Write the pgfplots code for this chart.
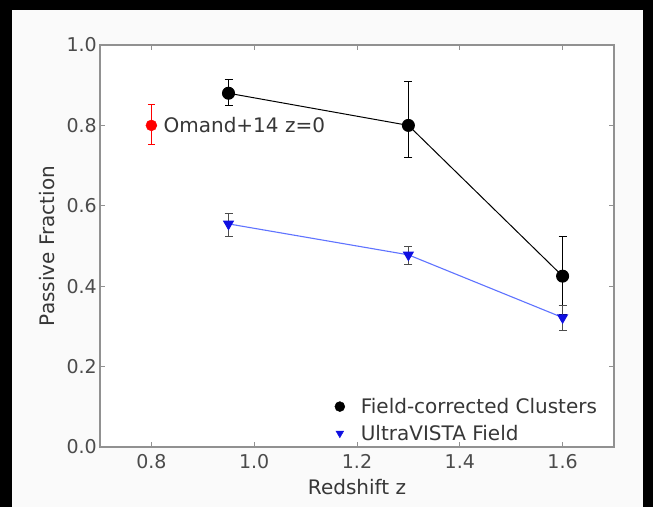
\documentclass[border=0pt]{standalone}
\usepackage{fontspec}
\setmainfont{DejaVu Sans}
\usepackage{pgfplots}
\pgfplotsset{compat=1.18}
\usepackage{pgfplotstable}

\definecolor{spine}{RGB}{145,145,145}
\definecolor{ticktext}{RGB}{75,75,75}
\definecolor{labeltext}{RGB}{55,55,55}
\definecolor{fieldblue}{RGB}{15,15,225}
\definecolor{fieldline}{RGB}{95,115,255}
\definecolor{paper}{RGB}{250,250,250}

% passive fraction vs redshift: z, value, +err, -err
\pgfplotstableread{
z f ep em
0.95 0.880 0.035 0.030
1.30 0.800 0.110 0.080
1.60 0.425 0.100 0.095
}\clusters
\pgfplotstableread{
z f ep em
0.95 0.555 0.025 0.030
1.30 0.478 0.022 0.025
1.60 0.322 0.030 0.032
}\field
\pgfplotstableread{
z f ep em
0.80 0.800 0.053 0.047
}\omand

\begin{document}
\begin{tikzpicture}
\path[fill=paper, draw=none] (0bp,0bp) rectangle (653bp,507bp);
\path[fill=white, draw=none] (100bp,60bp) rectangle (614bp,462bp);
\fill[black] (0bp,497bp) rectangle (653bp,507bp);
\fill[black] (0bp,0bp) rectangle (12bp,507bp);
\fill[black] (643bp,0bp) rectangle (653bp,507bp);
\begin{axis}[
  at={(100bp,60bp)}, anchor=south west,
  scale only axis, width=514bp, height=402bp,
  xmin=0.7, xmax=1.7, ymin=0, ymax=1,
  xtick={0.8,1.0,1.2,1.4,1.6},
  ytick={0,0.2,0.4,0.6,0.8,1.0},
  axis line style={spine, line width=1.4bp},
  tick align=inside, major tick length=5bp,
  tick style={spine, line width=0.8bp},
  /pgf/number format/assume math mode=true,
  /pgf/number format/.cd, fixed, fixed zerofill, precision=1, /pgfplots/.cd,
  tick label style={font=\fontsize{19bp}{22bp}\selectfont, text=ticktext},
  xticklabel style={inner sep=2bp, yshift=-5bp},
  yticklabel style={inner sep=2bp, xshift=-1bp},
  xlabel={Redshift z}, ylabel={Passive Fraction},
  every axis x label/.style={at={(axis description cs:0.5,-0.0995)}, anchor=center,
    font=\fontsize{20bp}{24bp}\selectfont, text=labeltext},
  every axis y label/.style={at={(axis description cs:-0.103,0.5)}, anchor=center, rotate=90,
    font=\fontsize{20bp}{24bp}\selectfont, text=labeltext},
  legend style={draw=none, fill=none, at={(axis description cs:0.977,0.003)}, anchor=south east,
    font=\fontsize{20bp}{24bp}\selectfont, text=labeltext, row sep=6bp, column sep=14bp,
    legend cell align=left},
]
\addlegendimage{only marks, mark=*, mark size=5bp, black}
\addlegendentry{Field-corrected Clusters}
\addlegendimage{only marks, mark=triangle*, mark options={rotate=180}, mark size=4.5bp, fieldblue}
\addlegendentry{UltraVISTA Field}

\addplot[forget plot, black, line width=1bp, mark=*, mark size=6bp,
  mark options={solid, fill=black},
  error bars/.cd, y dir=both, y explicit, error mark=-,
  error bar style={black, line width=0.8bp},
  error mark options={rotate=90, mark size=4bp, black, line width=0.8bp}]
  table[x=z, y=f, y error plus=ep, y error minus=em] {\clusters};

\addplot[forget plot, fieldline, line width=1.1bp, mark=triangle*, mark size=5.5bp,
  mark options={rotate=180, fill=fieldblue, draw=fieldblue},
  error bars/.cd, y dir=both, y explicit, error mark=-,
  error bar style={black!70, line width=0.8bp},
  error mark options={rotate=90, mark size=4bp, black!70, line width=0.8bp}]
  table[x=z, y=f, y error plus=ep, y error minus=em] {\field};

\addplot[forget plot, red, only marks, mark=*, mark size=5.5bp,
  error bars/.cd, y dir=both, y explicit, error mark=-,
  error bar style={red, line width=0.7bp},
  error mark options={rotate=90, mark size=3.5bp, red, line width=0.7bp}]
  table[x=z, y=f, y error plus=ep, y error minus=em] {\omand};

\node[anchor=west, inner sep=0pt, font=\fontsize{20bp}{24bp}\selectfont, text=labeltext]
  at (axis cs:0.8,0.80) [xshift=12bp] {Omand+14 z=0};
\end{axis}
\end{tikzpicture}
\end{document}
